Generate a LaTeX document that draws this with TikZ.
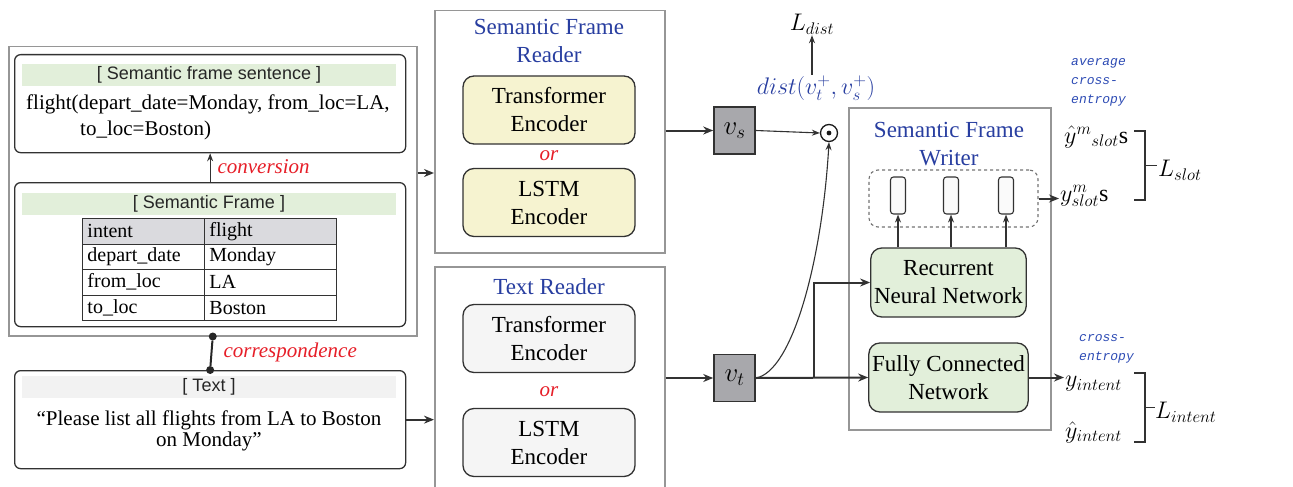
\RequirePackage{fix-cm}
\documentclass[tikz,border=0pt]{standalone}
\usepackage{fontspec}
\setmainfont{Liberation Serif}
\setsansfont{Liberation Sans}
\setmonofont{Liberation Mono}
\usetikzlibrary{arrows.meta,calc}
\definecolor{framegray}{RGB}{150,150,150}
\definecolor{boxdark}{RGB}{50,50,50}
\definecolor{bandgreen}{RGB}{226,239,218}
\definecolor{bandgray}{RGB}{242,242,242}
\definecolor{yellowfill}{RGB}{246,243,208}
\definecolor{grayfill}{RGB}{245,245,245}
\definecolor{greenfill}{RGB}{226,239,218}
\definecolor{vfill}{RGB}{168,168,172}
\definecolor{tabhead}{RGB}{218,218,222}
\definecolor{titleblue}{RGB}{40,62,160}
\definecolor{monoblue}{RGB}{45,75,180}
\definecolor{redlab}{RGB}{230,30,40}
\begin{document}
\begin{tikzpicture}[x=1pt,y=-1pt,
  outerframe/.style={draw=framegray, line width=1.5pt, anchor=north west, inner sep=0pt},
  innerbox/.style={draw=boxdark, line width=1.3pt, rounded corners=6pt, fill=white, anchor=north west, inner sep=0pt},
  encbox/.style={draw=boxdark, line width=1.3pt, rounded corners=11pt, minimum width=172pt, minimum height=68pt, align=center, font=\fontsize{23}{28}\selectfont},
  netbox/.style={encbox, fill=greenfill, minimum width=151pt, minimum height=69pt},
  vbox/.style={draw=boxdark, line width=1.6pt, fill=vfill, minimum width=41pt, minimum height=47pt, font=\fontsize{27}{28}\selectfont},
  cell/.style={draw=black!80, line width=0.9pt, anchor=north west, minimum height=25.5pt, inner xsep=5pt, inner ysep=0pt, align=left, font=\fontsize{20}{22}\selectfont},
  headtxt/.style={font=\sffamily\fontsize{18}{20}\selectfont, text=black!85},
  title/.style={text=titleblue, align=center, font=\fontsize{23}{28}\selectfont},
  orlab/.style={text=redlab, font=\itshape\fontsize{21}{24}\selectfont},
  redlabel/.style={text=redlab, font=\itshape\fontsize{21}{24}\selectfont, anchor=west},
  mathlab/.style={font=\fontsize{24}{26}\selectfont, inner sep=1pt},
  monolab/.style={text=monoblue, font=\ttfamily\itshape\fontsize{13}{19}\selectfont, align=left, anchor=west, inner sep=0pt},
  arr/.style={-{Stealth[length=10pt,width=8pt]}, line width=2pt, draw=boxdark},
  thinarr/.style={-{Stealth[length=8pt,width=6pt]}, line width=1.1pt, draw=boxdark},
  dot/.style={circle, fill=black!85, inner sep=0pt, minimum size=8pt}
]
\useasboundingbox (0,0) rectangle (1293,487);
\clip (0,0) rectangle (1293,487);

% ---------- left column ----------
\node[outerframe, minimum width=408pt, minimum height=289pt] (leftouter) at (8,46) {};
\node[innerbox, minimum width=391pt, minimum height=98pt] (sfs) at (14,54) {};
\node[innerbox, minimum width=391pt, minimum height=144pt] (sf) at (14,182) {};
\node[innerbox, minimum width=391pt, minimum height=98pt] (txt) at (14,370) {};

\fill[bandgreen] (22,64) rectangle (396,86);
\fill[bandgreen] (22,193) rectangle (396,215);
\fill[bandgray] (22,376) rectangle (396,398);

\node[headtxt] (sfshead) at (209,75) {[ Semantic frame sentence ]};
\node[anchor=west, inner sep=0pt, font=\fontsize{21}{24}\selectfont] (sfsl1) at (26,104) {flight(depart\_date=Monday, from\_loc=LA,};
\node[anchor=west, inner sep=0pt, font=\fontsize{21}{24}\selectfont] (sfsl2) at (80,130) {to\_loc=Boston)};

\node[headtxt] (sfhead) at (209,204) {[ Semantic Frame ]};
% table
\node[cell, fill=tabhead, text width=112pt] (c11) at (82,218) {intent};
\node[cell, fill=tabhead, text width=122pt] (c12) at (204,218) {flight};
\node[cell, text width=112pt] (c21) at (82,243.5) {depart\_date};
\node[cell, text width=122pt] (c22) at (204,243.5) {Monday};
\node[cell, text width=112pt] (c31) at (82,269) {from\_loc};
\node[cell, text width=122pt] (c32) at (204,269) {LA};
\node[cell, text width=112pt] (c41) at (82,294.5) {to\_loc};
\node[cell, text width=122pt] (c42) at (204,294.5) {Boston};

\node[headtxt] (txthead) at (209,387) {[ Text ]};
\node[align=center, font=\fontsize{21}{21}\selectfont] (txtbody) at (209,431) {``Please list all flights from LA to Boston\\on Monday''};

% conversion / correspondence
\draw[thinarr] (sf.north) -- (sfs.south);
\node[redlabel] (convlab) at (214,167) {conversion};
\node[dot] (ctop) at (leftouter.south) {};
\node[dot] (cbot) at (txt.north) {};
\draw[line width=2pt, draw=black!85] (ctop) -- (cbot);
\node[redlabel] (corrlab) at (220,352) {correspondence};

% ---------- readers ----------
\node[outerframe, minimum width=230pt, minimum height=242pt] (sfr) at (434,10) {};
\node[outerframe, minimum width=230pt, minimum height=232pt] (trd) at (434,266) {};
\node[title] (sfrtitle) at (549,41) {Semantic Frame\\Reader};
\node[title] (trtitle) at (549,287) {Text Reader};
\node[encbox, fill=yellowfill] (sfrtrans) at (549,110) {Transformer\\Encoder};
\node[orlab] (or1) at (549,156) {or};
\node[encbox, fill=yellowfill] (sfrlstm) at (549,202.5) {LSTM\\Encoder};
\node[encbox, fill=grayfill] (trtrans) at (549,338.5) {Transformer\\Encoder};
\node[orlab] (or2) at (549,392) {or};
\node[encbox, fill=grayfill] (trlstm) at (549,442.5) {LSTM\\Encoder};

\draw[arr] (leftouter.east |- 0,173) -- (sfr.west |- 0,173);
\draw[arr] (txt.east) -- (trd.west |- txt.east);

% ---------- vectors ----------
\node[vbox] (vs) at (734.5,130.5) {$v_s$};
\node[vbox] (vt) at (734.5,378) {$v_t$};
\draw[arr] (sfr.east |- vs.west) -- (vs.west);
\draw[arr] (trd.east |- vt.west) -- (vt.west);

\node[circle, draw=black!90, line width=1.3pt, minimum size=17pt, inner sep=0pt] (odot) at (829,133) {};
\fill[black!90] (odot.center) circle (2.4pt);
\draw[thinarr] (vs.east) -- (odot.west);
\draw[thinarr] (vt.east) .. controls (792,372) and (822,262) .. (odot.south);

\node[mathlab, text=titleblue] (dist) at (816,88) {$dist(v_t^{+},v_s^{+})$};
\node[mathlab] (ldist) at (812,24) {$L_{dist}$};
\draw[thinarr] (ldist.south |- dist.north) -- (ldist.south);

% ---------- writer ----------
\node[outerframe, minimum width=202pt, minimum height=322pt] (sfw) at (848,107) {};
\node[title] (sfwtitle) at (949,144) {Semantic Frame\\Writer};
\node[draw=black!55, dashed, line width=1.1pt, rounded corners=9pt, minimum width=169pt, minimum height=57pt] (dbox) at (953.5,198.5) {};
\node[draw=boxdark, line width=1.1pt, rounded corners=3pt, fill=black!2, minimum width=15pt, minimum height=37pt, inner sep=0pt] (r1) at (898,195.5) {};
\node[draw=boxdark, line width=1.1pt, rounded corners=3pt, fill=black!2, minimum width=15pt, minimum height=37pt, inner sep=0pt] (r2) at (951,195.5) {};
\node[draw=boxdark, line width=1.1pt, rounded corners=3pt, fill=black!2, minimum width=15pt, minimum height=37pt, inner sep=0pt] (r3) at (1006,195.5) {};
\node[netbox] (rnn) at (948.5,282.5) {Recurrent\\Neural Network};
\node[netbox] (fcn) at (948.5,377.5) {Fully Connected\\Network};
\draw[thinarr] (rnn.north -| r1.south) -- (r1.south);
\draw[thinarr] (rnn.north -| r2.south) -- (r2.south);
\draw[thinarr] (rnn.north -| r3.south) -- (r3.south);

\coordinate (br) at (814,378);
\draw[arr] (vt.east) -- (fcn.west);
\draw[arr] (br) |- (rnn.west);

% ---------- outputs ----------
\node[monolab] (avgce) at (1071,82) {average\\cross-\\entropy};
\node[mathlab, anchor=west] (yhatslot) at (1063,137) {$\hat{y}^{m}{}_{slot}\mathrm{s}$};
\node[mathlab, anchor=west] (yslot) at (1059,196) {$y^{m}_{slot}\mathrm{s}$};
\draw[arr] (dbox.east) -- (yslot.west |- dbox.east);
\draw[line width=1.2pt, draw=boxdark] (1134,131) -- (1145,131) -- (1145,200) -- (1134,200);
\draw[line width=1.2pt, draw=boxdark] (1145,165.5) -- (1157,165.5);
\node[mathlab, anchor=west] (lslot) at (1157,170) {$L_{slot}$};

\node[monolab] (ce) at (1079,349) {cross-\\entropy};
\node[mathlab, anchor=west] (yint) at (1064,384) {$y_{intent}$};
\node[mathlab, anchor=west] (yhatint) at (1064,432) {$\hat{y}_{intent}$};
\draw[arr] (fcn.east) -- (fcn.east -| yint.west);
\draw[line width=1.2pt, draw=boxdark] (1134,373) -- (1145,373) -- (1145,442) -- (1134,442);
\draw[line width=1.2pt, draw=boxdark] (1145,407.5) -- (1155,407.5);
\node[mathlab, anchor=west] (lint) at (1154,412) {$L_{intent}$};
\end{tikzpicture}
\end{document}
